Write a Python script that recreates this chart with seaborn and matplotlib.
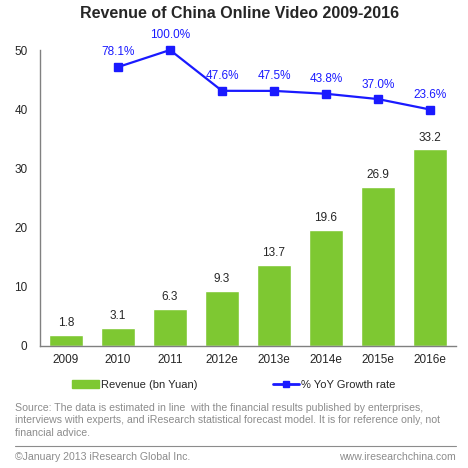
import numpy as np
import pandas as pd
import seaborn as sns
import matplotlib.pyplot as plt
from matplotlib.lines import Line2D
from matplotlib.patches import Patch

years = ['2009', '2010', '2011', '2012e', '2013e', '2014e', '2015e', '2016e']
revenue = [1.8, 3.1, 6.3, 9.3, 13.7, 19.6, 26.9, 33.2]
growth_years = ['2010', '2011', '2012e', '2013e', '2014e', '2015e', '2016e']
growth = [78.1, 100.0, 47.6, 47.5, 43.8, 37.0, 23.6]

sns.set_style('white')
plt.rcParams['font.family'] = ['Liberation Sans', 'DejaVu Sans']

green = '#7ec832'
blue = '#1a1aff'

df = pd.DataFrame({'year': years, 'revenue': revenue})

fig = plt.figure(figsize=(4.68, 4.68), dpi=100)
ax = fig.add_axes([40 / 468, 1 - 346 / 468, 416 / 468, 296 / 468])

sns.barplot(data=df, x='year', y='revenue', color=green, width=0.64,
            saturation=1, ax=ax)
ax.set_ylim(0, 50)
ax.set_yticks([0, 10, 20, 30, 40, 50])
ax.set_xlabel('')
ax.set_ylabel('')
ax.tick_params(axis='both', labelsize=8.5, length=0)
ax.tick_params(axis='x', pad=6)
ax.tick_params(axis='y', pad=9)
for s in ['top', 'right']:
    ax.spines[s].set_visible(False)
for s in ['left', 'bottom']:
    ax.spines[s].set_color('#808080')
    ax.spines[s].set_linewidth(1)

# value labels above bars
for i, v in enumerate(revenue):
    ax.text(i, v + 1.0, f'{v:.1f}', ha='center', va='bottom', fontsize=8.5)

# growth line on hidden secondary axis
ax2 = ax.twinx()
gx = [years.index(y) for y in growth_years]
ax2.plot(gx, growth, color=blue, marker='s', markersize=5.5, linewidth=1.6,
         clip_on=False)
ax2.set_ylim(-280, 100)
ax2.set_yticks([])
for s in ax2.spines.values():
    s.set_visible(False)
for x, g in zip(gx, growth):
    ax2.text(x, g + 11, f'{g:.1f}%', ha='center', va='bottom', fontsize=8.5,
             color=blue)
ax.set_xlim(-0.5, 7.5)

fig.text(240 / 468, 1 - 14 / 468, 'Revenue of China Online Video 2009-2016',
         ha='center', va='center', fontsize=11.5, fontweight='bold')

handles = [Patch(color=green), Line2D([], [], color=blue, marker='s',
                                      markersize=4, linewidth=2)]
fig.legend(handles, ['Revenue (bn Yuan)', '% YoY Growth rate'],
           loc='center', bbox_to_anchor=(234 / 468, 1 - 385 / 468), ncol=2,
           frameon=False, fontsize=8, columnspacing=6.8, handlelength=2.35,
           handletextpad=0.2)

src = ('Source: The data is estimated in line  with the financial results published by enterprises,\n'
       'interviews with experts, and iResearch statistical forecast model. It is for reference only, not\n'
       'financial advice.')
fig.text(15 / 468, 1 - 403 / 468, src, ha='left', va='top', fontsize=7.6,
         color='#8c8c8c', linespacing=1.3)
fig.add_artist(Line2D([15 / 468, 456 / 468], [1 - 446 / 468, 1 - 446 / 468],
                      color='#8c8c8c', linewidth=0.8))
fig.text(15 / 468, 1 - 457 / 468, '\u00a9January 2013 iResearch Global Inc.',
         ha='left', va='center', fontsize=7.6, color='#8c8c8c')
fig.text(456 / 468, 1 - 457 / 468, 'www.iresearchchina.com',
         ha='right', va='center', fontsize=7.6, color='#8c8c8c')

fig.savefig('out.png', dpi=100)
